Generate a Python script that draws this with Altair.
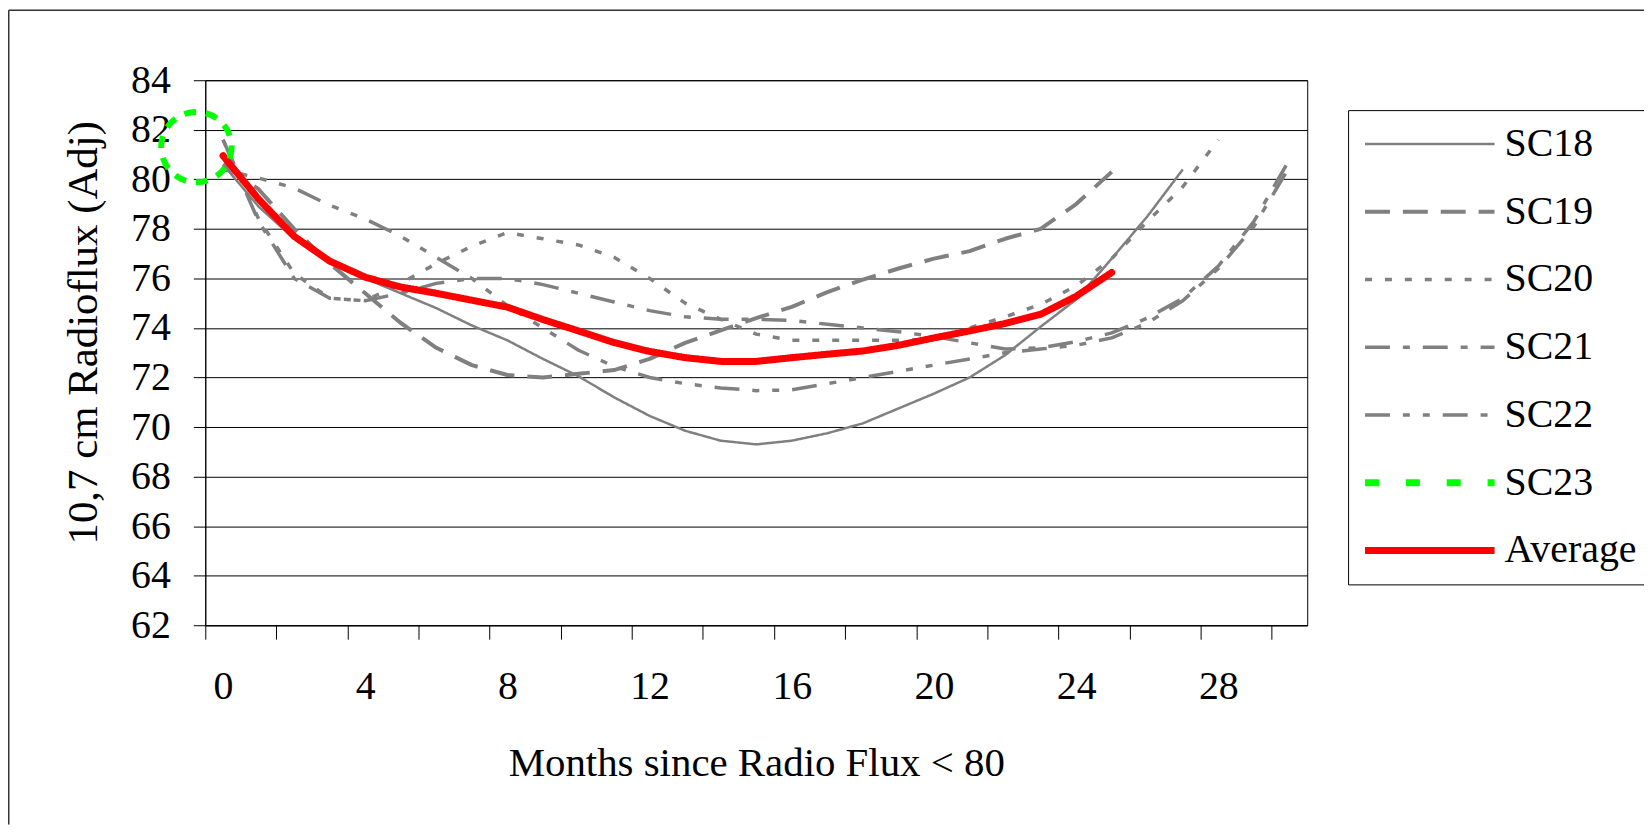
import altair as alt
import pandas as pd

# ---------------- data ----------------
months = list(range(31))

sc18 = [80.6, 78.9, 77.6, 76.6, 76.0, 75.4, 74.8, 74.1, 73.5, 72.75, 72.05, 71.2, 70.45, 69.85,
        69.45, 69.3, 69.45, 69.75, 70.15, 70.75, 71.35, 72.0, 72.9, 74.05, 75.15, 76.8, 78.5, 80.4]
sc19 = [80.6, 79.6, 78.0, 76.6, 75.4, 74.2, 73.2, 72.5, 72.1, 72.0, 72.15, 72.3, 72.75, 73.4,
        73.9, 74.4, 74.85, 75.45, 75.95, 76.4, 76.8, 77.1, 77.6, 78.0, 79.0, 80.3]
sc20 = [81.6, 78.4, 76.2, 75.2, 75.1, 75.8, 76.6, 77.3, 77.85, 77.6, 77.35, 76.85, 76.0, 75.0,
        74.35, 73.75, 73.5, 73.5, 73.5, 73.5, 73.55, 74.0, 74.45, 74.95, 75.7, 76.8, 78.3, 79.7, 81.6]
sc21 = [81.6, 78.3, 76.0, 75.2, 75.1, 75.4, 75.8, 76.0, 76.0, 75.75, 75.4, 75.05, 74.7, 74.45,
        74.35, 74.35, 74.3, 74.15, 74.0, 73.85, 73.65, 73.4, 73.15, 73.2, 73.45, 73.8, 74.4, 75.2,
        76.5, 78.3, 80.8]
sc22 = [80.4, 80.05, 79.65, 78.95, 78.4, 77.7, 76.85, 76.0, 74.9, 74.0, 73.1, 72.45, 72.0, 71.75,
        71.58, 71.47, 71.5, 71.75, 72.0, 72.25, 72.5, 72.75, 73.0, 73.15, 73.3, 73.6, 74.2, 75.1,
        76.4, 78.1, 80.5]
average = [80.95, 79.2, 77.7, 76.7, 76.05, 75.65, 75.4, 75.12, 74.84, 74.34, 73.88, 73.41, 73.05,
           72.8, 72.65, 72.65, 72.8, 72.94, 73.07, 73.3, 73.6, 73.88, 74.18, 74.55, 75.28, 76.24]
# SC23: single highlighted point (drawn as the dashed green ring)
sc23_months = [-0.75]
sc23_values = [81.3]

series_names = ["SC18", "SC19", "SC20", "SC21", "SC22", "SC23", "Average"]
y_ticks = list(range(62, 85, 2))
x_label_months = [0, 4, 8, 12, 16, 20, 24, 28]

# ---------------- tables ----------------
rows = []
for name, vals in [("SC18", sc18), ("SC19", sc19), ("SC20", sc20),
                   ("SC21", sc21), ("SC22", sc22), ("Average", average)]:
    for m, v in zip(months, vals):
        rows.append({"series": name, "month": m, "value": v})
df = pd.DataFrame(rows)
df23 = pd.DataFrame({"series": "SC23", "month": sc23_months, "value": sc23_values})
frame_df = pd.DataFrame({"k": [0]})

# ---------------- styling ----------------
FONT = "Liberation Serif"
W, H = 1106, 547
n_cat = len(months)
half_cat = W / n_cat / 2

colors = ["#808080"] * 5 + ["#00FF00", "#FF0000"]
dashes = [[1, 0], [25, 13], [7, 13], [25, 13, 7, 13], [25, 13, 7, 13, 7, 13], [14, 27], [1, 0]]

width_expr = ("datum.series == 'Average' ? 7 : datum.series == 'SC19' ? 4 : "
              "datum.series == 'SC18' ? 2.5 : 3.5")
legend_width_expr = ("datum.value == 'Average' ? 7 : datum.value == 'SC23' ? 7 : "
                     "datum.value == 'SC19' ? 4 : datum.value == 'SC18' ? 2.5 : 3.5")

legend = alt.Legend(
    title=None, orient="none", legendX=1147, legendY=30,
    strokeColor="#000", fillColor="#fff", padding=14,
    symbolType="stroke", symbolSize=16900, symbolOffset=48,
    symbolStrokeWidth=alt.ExprRef(expr=legend_width_expr),
    labelOffset=55, labelFontSize=40, labelFont=FONT, labelColor="#000",
    labelLimit=400, rowPadding=28,
)

x_enc = alt.X(
    "month:Q",
    scale=alt.Scale(domain=[-0.5, n_cat - 0.5], nice=False, zero=False),
    axis=alt.Axis(
        values=[-0.5 + 2 * k for k in range(16)],
        labelExpr="indexof(" + str(x_label_months) + ", datum.value + 0.5) >= 0 ? "
                  "format(datum.value + 0.5, 'd') : ''",
        labelOffset=half_cat, labelFlush=False, labelOverlap=False, labelBound=False,
        tickSize=14, labelPadding=28, labelFontSize=40, labelFont=FONT, labelColor="#000",
        domainColor="#000", tickColor="#000", grid=False,
        title="Months since Radio Flux < 80", titleFontSize=41, titleFont=FONT,
        titleFontWeight="normal", titleColor="#000", titleBaseline="alphabetic", titleY=151,
    ),
)
y_enc = alt.Y(
    "value:Q",
    scale=alt.Scale(domain=[62, 84], nice=False, zero=False),
    axis=alt.Axis(
        values=y_ticks, tickSize=12, labelPadding=23, labelFontSize=40, labelFont=FONT,
        labelColor="#000", domainColor="#000", tickColor="#000",
        grid=True, gridColor="#000", gridWidth=1,
        title="10,7 cm Radioflux (Adj)", titleFontSize=43, titleFont=FONT,
        titleFontWeight="normal", titleColor="#000", titleBaseline="alphabetic",
        titleX=-109, titleY=253,
    ),
)

color_enc = alt.Color("series:N", scale=alt.Scale(domain=series_names, range=colors), legend=legend)
dash_enc = alt.StrokeDash("series:N", scale=alt.Scale(domain=series_names, range=dashes), legend=legend)

base = alt.Chart(df).transform_calculate(w=width_expr)

gray_lines = base.transform_filter("datum.series != 'Average'").mark_line(
    strokeCap="butt", strokeJoin="round"
).encode(
    x=x_enc, y=y_enc, color=color_enc, strokeDash=dash_enc,
    strokeWidth=alt.StrokeWidth("w:Q", scale=None),
    detail="series:N",
)

avg_line = base.transform_filter("datum.series == 'Average'").mark_line(
    strokeCap="round", strokeJoin="round"
).encode(
    x="month:Q", y="value:Q", color=color_enc, strokeDash=dash_enc,
    strokeWidth=alt.StrokeWidth("w:Q", scale=None),
)

ring = alt.Chart(df23).mark_point(
    shape="circle", size=5000, filled=False, strokeWidth=6, strokeDash=[12, 10],
    color="#00FF00", opacity=1
).encode(x="month:Q", y="value:Q")

frame_left = alt.Chart(frame_df).mark_rule(color="#333", strokeWidth=1.5).encode(
    x=alt.value(-197.25), y=alt.value(-70.25), y2=alt.value(H + 200)
)
frame_top = alt.Chart(frame_df).mark_rule(color="#333", strokeWidth=1.5).encode(
    x=alt.value(-197.25), x2=alt.value(W + 338), y=alt.value(-70.25)
)

chart = alt.layer(gray_lines, avg_line, ring, frame_left, frame_top).properties(
    width=W, height=H,
    padding={"left": 198, "top": 71, "right": 338, "bottom": 200},
    autosize=alt.AutoSizeParams(type="none"),
).configure(font=FONT).configure_view(stroke="#000", strokeWidth=1)

chart.save("out.html", embed_options={"renderer": "svg", "actions": False})
